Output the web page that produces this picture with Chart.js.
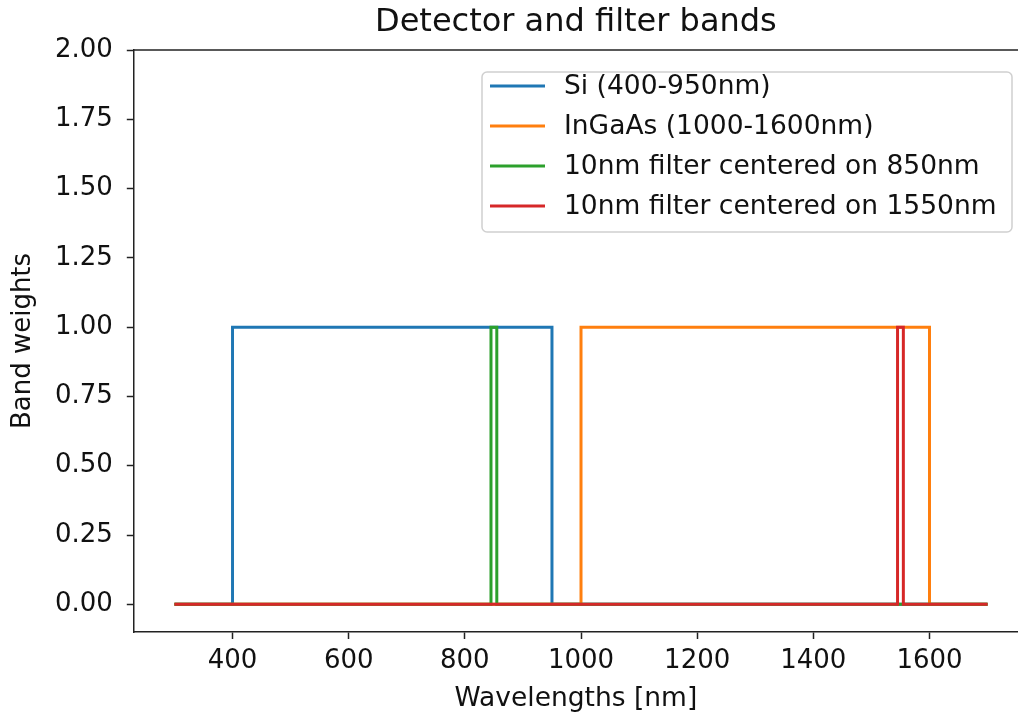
<!DOCTYPE html>
<html>
<head>
<meta charset="utf-8">
<script src="https://cdn.jsdelivr.net/npm/chart.js@4"></script>
<style>
  html, body { margin: 0; padding: 0; background: #fff; overflow: hidden; }
  #bands { display: block; }
</style>
</head>
<body>
<canvas id="bands" width="1018" height="721"></canvas>
<script>
// band edges (wavelength in nm, weight)
var siWl = [300, 400, 400, 950, 950, 1700];
var siW = [0, 0, 1, 1, 0, 0];
var ingaasWl = [300, 1000, 1000, 1600, 1600, 1700];
var ingaasW = [0, 0, 1, 1, 0, 0];
var f850Wl = [300, 845, 845, 855, 855, 1700];
var f850W = [0, 0, 1, 1, 0, 0];
var f1550Wl = [300, 1545, 1545, 1555, 1555, 1700];
var f1550W = [0, 0, 1, 1, 0, 0];

var labels = ['Si (400-950nm)', 'InGaAs (1000-1600nm)', '10nm filter centered on 850nm', '10nm filter centered on 1550nm'];
var colors = ['#1f77b4', '#ff7f0e', '#2ca02c', '#d62728'];
var xTicks = [400, 600, 800, 1000, 1200, 1400, 1600];
var yTicks = [0, 0.25, 0.5, 0.75, 1, 1.25, 1.5, 1.75, 2];

var FONT = 'DejaVu Sans';

function pts(xs, ys) {
    return xs.map(function (x, i) { return {x: x, y: ys[i]}; });
}

var series = [[siWl, siW], [ingaasWl, ingaasW], [f850Wl, f850W], [f1550Wl, f1550W]];
var datasets = series.map(function (s, i) {
    return {
        label: labels[i],
        data: pts(s[0], s[1]),
        borderColor: colors[i],
        backgroundColor: colors[i],
        borderWidth: 3,
        pointRadius: 0,
        tension: 0,
        fill: false,
        order: series.length - 1 - i
    };
});

// top spine + matplotlib style legend box
// (the right spine is cut off in the original picture)
var frameAndLegend = {
    id: 'frameAndLegend',
    afterDraw: function (chart) {
        var c = chart.ctx, a = chart.chartArea;
        c.save();
        c.strokeStyle = '#222';
        c.lineWidth = 1.5;
        c.beginPath();
        c.moveTo(a.left, a.top);
        c.lineTo(a.right, a.top);
        c.stroke();

        var bx = 482, by = 72, bw = 530, bh = 160;
        c.beginPath();
        c.roundRect(bx, by, bw, bh, 5);
        c.fillStyle = 'rgba(255,255,255,0.8)';
        c.fill();
        c.strokeStyle = '#d0d0d0';
        c.lineWidth = 1.5;
        c.stroke();

        c.font = '26.5px ' + FONT;
        c.textBaseline = 'middle';
        c.fillStyle = '#111';
        chart.data.datasets.forEach(function (d, i) {
            var y = 86 + i * 40;
            c.strokeStyle = d.borderColor;
            c.lineWidth = 3;
            c.beginPath();
            c.moveTo(490, y);
            c.lineTo(545, y);
            c.stroke();
            c.fillText(d.label, 564, y + 1);
        });
        c.restore();
    }
};

new Chart(document.getElementById('bands').getContext('2d'), {
    type: 'line',
    data: {datasets: datasets},
    options: {
        responsive: false,
        animation: false,
        layout: {padding: 0},
        plugins: {
            legend: {display: false},
            tooltip: {enabled: false},
            title: {
                display: true,
                fullSize: false,
                text: 'Detector and filter bands',
                color: '#111',
                font: {family: FONT, size: 32, weight: 'normal'},
                padding: {top: 3.6, bottom: 8}
            }
        },
        scales: {
            x: {
                type: 'linear',
                min: 230,
                max: 1752.4,
                afterBuildTicks: function (s) { s.ticks = xTicks.map(function (v) { return {value: v}; }); },
                afterFit: function (s) { s.height = 89; },
                ticks: {
                    color: '#111',
                    font: {family: FONT, size: 26},
                    padding: 7,
                    maxRotation: 0,
                    callback: function (v) { return String(v); }
                },
                grid: {drawOnChartArea: false, drawTicks: true, tickLength: 7, tickColor: '#222', tickWidth: 1.5},
                border: {display: true, color: '#222', width: 1.5},
                title: {
                    display: true,
                    text: 'Wavelengths [nm]',
                    color: '#111',
                    font: {family: FONT, size: 26.5},
                    padding: {top: 6, bottom: 6}
                }
            },
            y: {
                type: 'linear',
                min: -0.1,
                max: 2,
                afterBuildTicks: function (s) { s.ticks = yTicks.map(function (v) { return {value: v}; }); },
                afterFit: function (s) { s.width = 133.8; },
                ticks: {
                    color: '#111',
                    font: {family: FONT, size: 26},
                    padding: 14,
                    callback: function (v) { return Number(v).toFixed(2); }
                },
                grid: {drawOnChartArea: false, drawTicks: true, tickLength: 7, tickColor: '#222', tickWidth: 1.5},
                border: {display: true, color: '#222', width: 1.5},
                title: {
                    display: true,
                    text: 'Band weights',
                    color: '#111',
                    font: {family: FONT, size: 26},
                    padding: {top: 8, bottom: 8}
                }
            }
        }
    },
    plugins: [frameAndLegend]
});
</script>
</body>
</html>
